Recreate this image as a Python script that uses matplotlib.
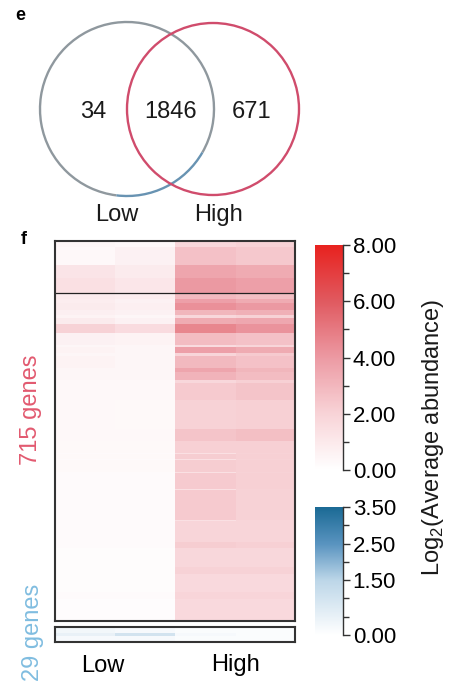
import numpy as np
import matplotlib
matplotlib.use("Agg")
import matplotlib.pyplot as plt
from matplotlib.colors import LinearSegmentedColormap, Normalize
from matplotlib.cm import ScalarMappable
from matplotlib.patches import Arc, Circle

plt.rcParams['font.family'] = ['Liberation Sans', 'DejaVu Sans']
plt.rcParams['mathtext.fontset'] = 'custom'
plt.rcParams['mathtext.rm'] = 'Liberation Sans'

# --- Venn counts ---
venn_counts = [34, 1846, 671]
venn_groups = ["Low", "High"]

# --- heatmap bands (upregulated in High, 715 genes), read top to bottom ---
# each band: number of genes, values in Low rep1/rep2, High rep1/rep2
band_genes = [11, 34, 24, 28, 13, 6, 13, 11, 4, 13, 17, 21, 4, 11, 6, 23, 8, 15, 6, 32,
              53, 23, 23, 2, 10, 2, 21, 2, 30, 2, 57, 2, 40, 11, 36, 13, 34, 13, 41]
low_a = [0.4, 0.3, 1.2, 1.4, 0.9, 0.8, 0.9, 0.7, 0.5, 0.9, 2.0, 0.6, 0.4, 0.5, 0.4, 0.5, 0.4, 0.4, 0.3, 0.3,
         0.3, 0.3, 0.25, 0.2, 0.25, 0.2, 0.25, 0.2, 0.2, 0.2, 0.2, 0.2, 0.2, 0.2, 0.15, 0.15, 0.15, 0.2, 0.1]
low_b = [0.3, 0.6, 0.9, 1.1, 0.8, 0.6, 0.7, 0.6, 0.4, 0.6, 1.6, 0.5, 0.4, 0.4, 0.4, 0.4, 0.4, 0.4, 0.3, 0.3,
         0.25, 0.3, 0.25, 0.2, 0.25, 0.2, 0.25, 0.2, 0.2, 0.2, 0.2, 0.2, 0.2, 0.2, 0.15, 0.15, 0.15, 0.2, 0.1]
high_a = [1.8, 2.6, 3.6, 4.0, 2.9, 3.8, 4.3, 3.0, 1.8, 3.4, 4.6, 2.8, 1.6, 3.8, 1.9, 2.9, 3.6, 3.1, 1.8, 2.3,
          2.0, 2.5, 2.1, 1.4, 2.2, 1.4, 2.2, 1.4, 2.3, 1.4, 2.3, 1.4, 1.9, 2.2, 1.8, 2.0, 1.7, 1.9, 1.7]
high_b = [2.0, 2.4, 3.4, 3.8, 2.7, 3.4, 4.0, 3.2, 2.0, 3.5, 4.2, 2.6, 1.9, 3.4, 2.3, 2.6, 3.0, 2.8, 2.1, 2.5,
          2.1, 2.7, 2.1, 2.0, 2.1, 2.0, 2.1, 2.0, 2.1, 2.0, 2.0, 1.9, 1.9, 2.1, 1.8, 2.0, 1.7, 1.9, 1.7]
separator_after = 97

# --- bands of the 29 genes higher in Low ---
low_band_genes = [12, 5, 12]
low_band_a = [0.3, 0.5, 0.2]
low_band_b = [0.2, 1.0, 0.2]
low_band_c = [0.1, 0.2, 0.1]
low_band_d = [0.1, 0.1, 0.1]

red_ticks = [0, 2, 4, 6, 8]
red_minor = [1, 3, 5, 7]
blue_ticks = [0, 1.5, 2.5, 3.5]
blue_minor = [0.5, 1, 2, 3]

red_cmap = LinearSegmentedColormap.from_list(
    "reds", [(0, "#ffffff"), (0.25, "#f8d3d7"), (0.5, "#ec9aa3"), (0.75, "#e05a60"), (1, "#e8221f")])
blue_cmap = LinearSegmentedColormap.from_list(
    "blues", [(0, "#ffffff"), (0.43, "#bcd6e8"), (0.71, "#5a94c0"), (1, "#1b6a95")])

W, H = 463, 684
fig = plt.figure(figsize=(W / 100, H / 100), dpi=100)


def px_axes(x0, y0, x1, y1):
    return fig.add_axes([x0 / W, 1 - y1 / H, (x1 - x0) / W, (y1 - y0) / H])


def expand(genes, cols):
    return np.column_stack([np.repeat(c, genes) for c in cols])


# heatmap, upper block
up = expand(band_genes, [low_a, low_b, high_a, high_b])
ax_top = px_axes(55, 241, 295, 621)
ax_top.imshow(up, aspect='auto', cmap=red_cmap, vmin=0, vmax=8, interpolation='nearest')
ax_top.axhline(separator_after - 0.5, color='#222222', lw=0.9)
ax_top.set_xticks([])
ax_top.set_yticks([])
for s in ax_top.spines.values():
    s.set_linewidth(1.5)
    s.set_color('#333333')

# heatmap, lower block
down = expand(low_band_genes, [low_band_a, low_band_b, low_band_c, low_band_d])
ax_bot = px_axes(55, 627, 295, 642)
ax_bot.imshow(down, aspect='auto', cmap=blue_cmap, vmin=0, vmax=3.5, interpolation='nearest')
ax_bot.set_yticks([])
ax_bot.set_xticks([0.3, 2.5])
ax_bot.set_xticklabels(venn_groups, fontsize=17)
ax_bot.tick_params(axis='x', length=0, pad=9)
for s in ax_bot.spines.values():
    s.set_linewidth(1.5)
    s.set_color('#333333')

# colour bars
for box, cmap, vmax, ticks, minor in [((315, 245, 343, 470), red_cmap, 8, red_ticks, red_minor),
                                      ((315, 507, 343, 635), blue_cmap, 3.5, blue_ticks, blue_minor)]:
    cax = px_axes(*box)
    cb = fig.colorbar(ScalarMappable(norm=Normalize(0, vmax), cmap=cmap), cax=cax)
    cb.set_ticks(ticks)
    cb.set_ticklabels([f"{t:.2f}" for t in ticks])
    cb.set_ticks(minor, minor=True)
    cb.outline.set_visible(False)
    cax.spines['right'].set_visible(True)
    cax.spines['right'].set_color('#333333')
    cax.spines['right'].set_linewidth(1.0)
    cax.tick_params(which='major', length=5, width=1, labelsize=16, pad=2, color='#333333')
    cax.tick_params(which='minor', length=4, width=1, color='#333333')

# overlay for Venn and free text
ov = fig.add_axes([0, 0, 1, 1])
ov.set_xlim(0, W)
ov.set_ylim(H, 0)
ov.axis('off')

ov.add_patch(Arc((127, 109), 174, 174, theta1=97, theta2=390, color='#8f989e', lw=1.7))
ov.add_patch(Arc((127, 109), 174, 174, theta1=30, theta2=97, color='#6893b2', lw=1.7))
ov.add_patch(Circle((213, 109), 86, fill=False, ec='#d04c6c', lw=1.7))

for x, n in zip([93, 171, 252], venn_counts):
    ov.text(x, 112, str(n), ha='center', va='center', fontsize=17, color='#1a1a1a')
for x, g in zip([117, 218], venn_groups):
    ov.text(x, 215, g, ha='center', va='center', fontsize=17, color='#1a1a1a')

ov.text(20, 15, "e", ha='center', va='center', fontsize=13, fontweight='bold')
ov.text(24, 240, "f", ha='center', va='center', fontsize=13, fontweight='bold')
ov.text(31, 410, "715 genes", rotation=90, ha='center', va='center', fontsize=17, color='#e25a70')
ov.text(33, 632, "29 genes", rotation=90, ha='center', va='center', fontsize=17, color='#80bde0')
ov.text(433, 437, "Log$_2$(Average abundance)", rotation=90, ha='center', va='center', fontsize=17,
        color='#1a1a1a')

fig.savefig("out.png", dpi=100)
